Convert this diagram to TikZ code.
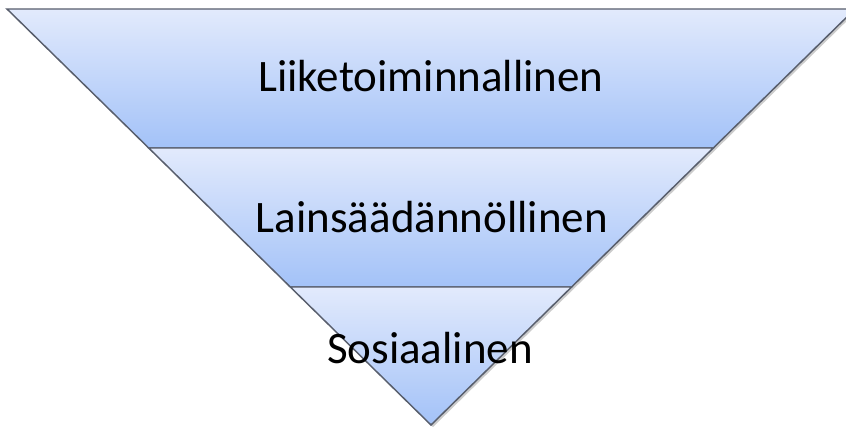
\documentclass[tikz,border=0pt]{standalone}
\usepackage{fontspec}
\setmainfont{Carlito}
\usepackage{tikz}
\definecolor{light}{RGB}{226, 234, 252}
\definecolor{dark}{RGB}{163, 194, 248}
\definecolor{edge}{RGB}{88, 94, 108}
\definecolor{shadow}{gray}{0.6}

\begin{document}
\begin{tikzpicture}[x=0.75pt, y=-0.75pt, line width=1.1pt]

    \useasboundingbox (0, 0) rectangle (846, 428);
    \clip (0, 0) rectangle (846, 428);

    \tikzset{band/.style={top color=light, bottom color=dark, draw=edge},
        label/.style={anchor=base, font=\fontsize{33.75}{40}\selectfont}}

    % shadow
    \fill[color=shadow, opacity=0.5] (9, 11) -- (857, 11) -- (433, 427) -- cycle;

    \shade[band] (7, 9) -- (855, 9) -- (713.3, 148) -- (148.7, 148) -- cycle;
    \shade[band] (148.7, 148) -- (713.3, 148) -- (571.6, 287) -- (290.3, 287) -- cycle;
    \shade[band] (290.3, 287) -- (571.6, 287) -- (431, 425) -- cycle;

    \node[label] (liike) at (431, 92) {Liiketoiminnallinen};
    \node[label] (laki) at (432, 232) {Lainsäädännöllinen};
    \node[label] (sosiaali) at (430, 363) {Sosiaalinen};

\end{tikzpicture}
\end{document}
